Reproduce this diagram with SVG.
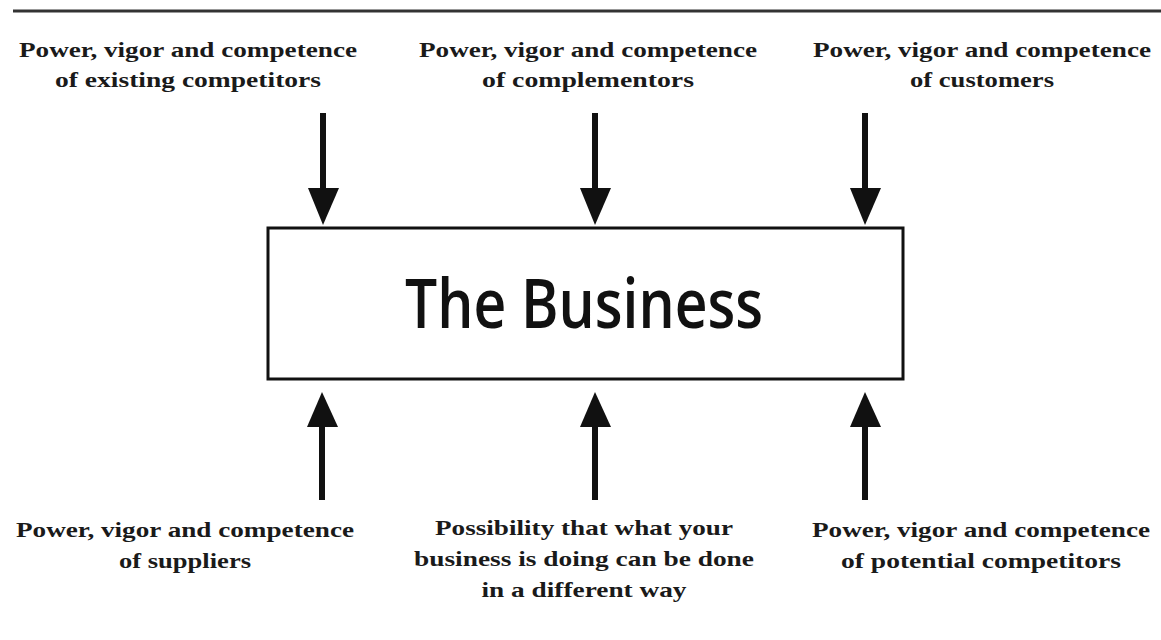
<svg xmlns="http://www.w3.org/2000/svg" width="1161" height="640" viewBox="0 0 1161 640">
<style>
.lbl{font-family:"Liberation Serif","Times New Roman",serif;font-weight:bold;font-size:21px;fill:#1a1a1a;text-anchor:middle}
.title{font-family:"Open Sans","Liberation Sans",sans-serif;font-weight:600;font-size:68px;fill:#111;text-anchor:middle}
.shaft{stroke:#111;stroke-width:6;fill:none}
.head{fill:#111}
</style>
<rect width="1161" height="640" fill="#ffffff"/>
<line x1="13" y1="11" x2="1161" y2="11" stroke="#333" stroke-width="3"/>
<g id="business">
<rect x="268" y="228" width="635" height="151" fill="#fff" stroke="#111" stroke-width="3"/>
<text class="title" x="584" y="328" textLength="358" lengthAdjust="spacingAndGlyphs">The Business</text>
</g>
<g id="existing-competitors">
<text class="lbl" x="188" y="57" textLength="338" lengthAdjust="spacingAndGlyphs">Power, vigor and competence</text>
<text class="lbl" x="188" y="87" textLength="266" lengthAdjust="spacingAndGlyphs">of existing competitors</text>
</g>
<g id="complementors">
<text class="lbl" x="588" y="57" textLength="338" lengthAdjust="spacingAndGlyphs">Power, vigor and competence</text>
<text class="lbl" x="588" y="87" textLength="212" lengthAdjust="spacingAndGlyphs">of complementors</text>
</g>
<g id="customers">
<text class="lbl" x="982" y="57" textLength="338" lengthAdjust="spacingAndGlyphs">Power, vigor and competence</text>
<text class="lbl" x="982" y="87" textLength="144" lengthAdjust="spacingAndGlyphs">of customers</text>
</g>
<g id="suppliers">
<text class="lbl" x="185" y="537" textLength="338" lengthAdjust="spacingAndGlyphs">Power, vigor and competence</text>
<text class="lbl" x="185" y="568" textLength="132" lengthAdjust="spacingAndGlyphs">of suppliers</text>
</g>
<g id="substitutes">
<text class="lbl" x="584" y="535" textLength="298" lengthAdjust="spacingAndGlyphs">Possibility that what your</text>
<text class="lbl" x="584" y="566" textLength="340" lengthAdjust="spacingAndGlyphs">business is doing can be done</text>
<text class="lbl" x="584" y="597" textLength="205" lengthAdjust="spacingAndGlyphs">in a different way</text>
</g>
<g id="potential-competitors">
<text class="lbl" x="981" y="537" textLength="338" lengthAdjust="spacingAndGlyphs">Power, vigor and competence</text>
<text class="lbl" x="981" y="568" textLength="280" lengthAdjust="spacingAndGlyphs">of potential competitors</text>
</g>
<g id="connectors">
<line class="shaft" x1="323" y1="113" x2="323" y2="192"/>
<polygon class="head" points="308,188 339,188 323,225"/>
<line class="shaft" x1="595" y1="113" x2="595" y2="192"/>
<polygon class="head" points="580,188 611,188 595,225"/>
<line class="shaft" x1="865" y1="113" x2="865" y2="192"/>
<polygon class="head" points="850,188 881,188 865,225"/>
<line class="shaft" x1="322" y1="500" x2="322" y2="424"/>
<polygon class="head" points="307,427 338,427 322,392"/>
<line class="shaft" x1="595" y1="500" x2="595" y2="424"/>
<polygon class="head" points="580,427 611,427 595,392"/>
<line class="shaft" x1="865" y1="500" x2="865" y2="424"/>
<polygon class="head" points="850,427 881,427 865,392"/>
</g>
</svg>
